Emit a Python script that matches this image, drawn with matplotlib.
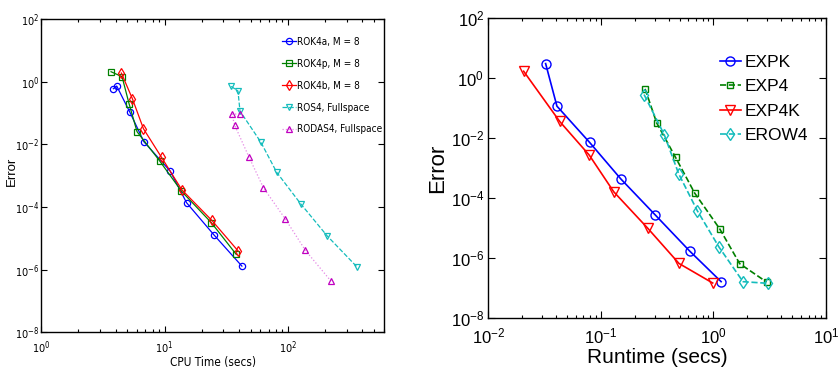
import matplotlib
matplotlib.use("Agg")
import matplotlib.pyplot as plt
from matplotlib import font_manager as fm
from matplotlib.textpath import TextToPath
from matplotlib.ticker import FixedLocator, LogLocator, NullLocator, NullFormatter, LogFormatterMathtext

plt.rcParams['mathtext.default'] = 'regular'

# left panel: CPU time vs error
rok4a_t = [3.84, 4.09, 5.22, 6.79, 11.1, 15.1, 25.1, 42.4]
rok4a_e = [0.598, 0.727, 0.108, 0.0122, 1.41e-3, 1.37e-4, 1.31e-5, 1.31e-6]
rok4p_t = [3.68, 4.52, 5.15, 5.98, 9.10, 13.7, 24.0, 38.2]
rok4p_e = [2.08, 1.44, 0.199, 0.0254, 3.01e-3, 3.24e-4, 3.16e-5, 3.08e-6]
rok4b_t = [4.46, 5.48, 6.74, 9.45, 13.8, 24.2, 39.6]
rok4b_e = [1.89, 0.287, 0.0316, 3.85e-3, 3.57e-4, 3.75e-5, 3.94e-6]
ros4_t = [34.7, 39.4, 40.9, 60.3, 81.3, 127, 208, 365]
ros4_e = [0.71, 0.504, 0.116, 0.0119, 1.28e-3, 1.28e-4, 1.22e-5, 1.22e-6]
rodas4_t = [40.6, 35.2, 37.0, 48.4, 63.4, 95.1, 139, 224]
rodas4_e = [0.0952, 0.0906, 0.0414, 3.94e-3, 4.14e-4, 4.25e-5, 4.14e-6, 4.35e-7]

# right panel: runtime vs error
expk_t = [0.0323, 0.0407, 0.0795, 0.150, 0.303, 0.615, 1.17]
expk_e = [3.08, 0.117, 7.18e-3, 4.41e-4, 2.78e-5, 1.71e-6, 1.63e-7]
exp4_t = [0.247, 0.313, 0.461, 0.681, 1.135, 1.71, 2.97]
exp4_e = [0.441, 0.0325, 2.27e-3, 1.47e-4, 9.5e-6, 6.5e-7, 1.58e-7]
exp4k_t = [0.0206, 0.0431, 0.0789, 0.130, 0.260, 0.494, 0.984]
exp4k_e = [1.71, 0.036, 2.71e-3, 1.63e-4, 1.0e-5, 6.6e-7, 1.47e-7]
erow4_t = [0.242, 0.366, 0.491, 0.719, 1.12, 1.83, 3.07]
erow4_e = [0.285, 0.0129, 6.5e-4, 3.78e-5, 2.33e-6, 1.63e-7, 1.43e-7]

CYAN = '#14bcbc'
GREEN = '#008000'
WIDE = {'family': ['Liberation Sans', 'DejaVu Sans']}


# pick a narrow sans for the left panel if one is installed
def find_narrow():
    entries = fm.fontManager.ttflist
    for f in entries:
        if f.name == 'Liberation Sans Narrow':
            return {'family': 'Liberation Sans Narrow'}
    for fam in ['Liberation Sans', 'DejaVu Sans', 'Noto Sans', 'Roboto', 'Open Sans']:
        for f in entries:
            if f.name == fam and str(f.stretch) in ('condensed', 'semi-condensed', 'extra-condensed'):
                return {'family': fam, 'stretch': f.stretch}
    return {'family': 'Liberation Sans'}


NARROW = find_narrow()


# font size that makes a text this many pixels wide (100 dpi)
def fit_size(text, prop, px):
    fp = fm.FontProperties(size=10, **prop)
    w, _, _ = TextToPath().get_text_width_height_descent(text, fp, ismath=False)
    return 10 * px / (w * 100 / 72)


leg_size = fit_size('RODAS4, Fullspace', NARROW, 85)
xlab_size = fit_size('CPU Time (secs)', NARROW, 86)
tick_size = fit_size('10', NARROW, 12.5)


def style_axes(ax, xlim, size, prop, major_len, xpad, ypad):
    ax.set_xscale('log')
    ax.set_yscale('log')
    ax.set_xlim(*xlim)
    ax.set_ylim(1e-8, 1e2)
    ax.yaxis.set_major_locator(FixedLocator([1e-8, 1e-6, 1e-4, 1e-2, 1e0, 1e2]))
    ax.yaxis.set_minor_locator(NullLocator())
    ax.xaxis.set_major_locator(LogLocator(base=10, numticks=10))
    ax.xaxis.set_minor_locator(LogLocator(base=10, subs=range(2, 10), numticks=20))
    ax.xaxis.set_minor_formatter(NullFormatter())
    ax.xaxis.set_major_formatter(LogFormatterMathtext())
    ax.yaxis.set_major_formatter(LogFormatterMathtext())
    ax.tick_params(which='both', direction='in', top=True, right=True, width=0.8)
    ax.tick_params(which='major', length=major_len, labelsize=size)
    ax.tick_params(which='minor', length=major_len * 0.5)
    ax.tick_params(axis='x', which='major', pad=xpad)
    ax.tick_params(axis='y', which='major', pad=ypad)
    for lab in ax.get_xticklabels() + ax.get_yticklabels():
        lab.set_fontproperties(fm.FontProperties(size=size, **prop))
    for s in ax.spines.values():
        s.set_linewidth(1.0)


fig = plt.figure(figsize=(8.38, 3.71), dpi=100)

# ----- left panel
ax1 = fig.add_axes([0.0493, 0.1038, 0.4089, 0.845])
ax1.plot(rok4a_t, rok4a_e, '-o', color='#0000ff', lw=0.9, ms=4.5, mfc='none', mew=0.9, label='ROK4a, M = 8')
ax1.plot(rok4p_t, rok4p_e, '-s', color=GREEN, lw=0.9, ms=4, mfc='none', mew=0.9, label='ROK4p, M = 8')
ax1.plot(rok4b_t, rok4b_e, '-d', color='#ff0000', lw=0.9, ms=5, mfc='none', mew=0.9, label='ROK4b, M = 8')
ax1.plot(ros4_t, ros4_e, '--v', color=CYAN, lw=0.9, ms=5, mfc='none', mew=0.9, label='ROS4, Fullspace')
ax1.plot(rodas4_t, rodas4_e, ':^', color='#e58ae5', mec='#c000c0', lw=0.9, ms=5, mfc='none', mew=0.9,
         label='RODAS4, Fullspace')
style_axes(ax1, (1, 10 ** 2.78), tick_size, NARROW, 4, 5, 1.5)
ax1.set_xlabel('CPU Time (secs)', fontproperties=fm.FontProperties(size=xlab_size, **NARROW), labelpad=0)
ax1.set_ylabel('Error', fontsize=9.5, **WIDE)
ax1.yaxis.set_label_coords(-0.068, 0.515)
ax1.legend(loc='upper left', bbox_to_anchor=(0.7015, 0.944), frameon=False,
           prop=fm.FontProperties(size=leg_size, **NARROW), borderpad=0, borderaxespad=0,
           handlelength=1.4, handletextpad=0.1, labelspacing=1.2)

# ----- right panel
ax2 = fig.add_axes([0.5827, 0.1429, 0.4030, 0.8078])
ax2.plot(expk_t, expk_e, '-o', color='#0000ff', lw=1.2, ms=6.5, mfc='none', mew=1.0, label='EXPK')
ax2.plot(exp4_t, exp4_e, '--s', color=GREEN, lw=1.2, ms=5, mfc='none', mew=1.0, label='EXP4')
ax2.plot(exp4k_t, exp4k_e, '-v', color='#ff0000', lw=1.2, ms=7, mfc='none', mew=1.0, label='EXP4K')
ax2.plot(erow4_t, erow4_e, '--d', color=CYAN, lw=1.2, ms=6.5, mfc='none', mew=1.0, label='EROW4')
style_axes(ax2, (1e-2, 1e1), 12, WIDE, 5, 6, 3)
ax2.set_xlabel('Runtime (secs)', fontsize=15, labelpad=1, **WIDE)
ax2.set_ylabel('Error', fontsize=16, labelpad=2, **WIDE)
ax2.legend(loc='upper left', bbox_to_anchor=(0.686, 0.878), frameon=False,
           prop={'size': 12.5, **WIDE}, borderpad=0, borderaxespad=0,
           handlelength=1.2, handletextpad=0.2, labelspacing=0.53)

fig.savefig('out.png', dpi=100)
